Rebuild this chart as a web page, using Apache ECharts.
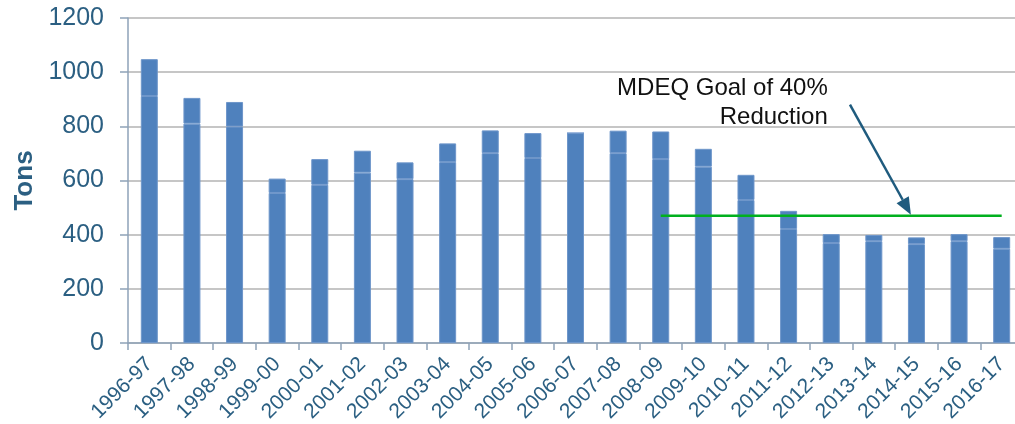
<!DOCTYPE html>
<html>
<head>
<meta charset="utf-8">
<script src="https://cdn.jsdelivr.net/npm/echarts@6/dist/echarts.min.js"></script>
<style>
html,body{margin:0;padding:0;background:#fff;}
#chart{width:1015px;height:424px;}
</style>
</head>
<body>
<div id="chart"></div>
<script>
// ---- data ----
var categories = ['1996-97','1997-98','1998-99','1999-00','2000-01','2001-02','2002-03','2003-04','2004-05','2005-06','2006-07','2007-08','2008-09','2009-10','2010-11','2011-12','2012-13','2013-14','2014-15','2015-16','2016-17'];
var totalTons = [1048, 905, 890, 607, 679, 710, 667, 737, 785, 775, 775, 784, 781, 717, 621, 488, 402, 399, 390, 402, 391];
var lowerTons = [912, 810, 799, 554, 584, 629, 605, 668, 701, 683, 775, 701, 679, 651, 528, 421, 369, 376, 365, 376, 348];
var yTicks = [0, 200, 400, 600, 800, 1000, 1200];
var goalValue = 470;
var goalStartCategory = '2008-09';
var goalText = 'MDEQ Goal of 40%\nReduction';
// annotation anchors in data space: [category index, value]
var arrowFrom = [16.44, 880];
var arrowTo = [17.87, 474];
var textAnchor = [15.92, 885];

var upperTons = totalTons.map(function (t, i) { return t - lowerTons[i]; });
var goalStartIdx = categories.indexOf(goalStartCategory);
var goalData = categories.map(function (c, i) { return i >= goalStartIdx ? goalValue : null; });

var textColor = '#2B5F82';
var axisColor = '#8EA2B8';
var barColor = '#4F81BD';
var barBorder = '#6E96CA';

var chart = echarts.init(document.getElementById('chart'));
chart.setOption({
  animation: false,
  grid: { left: 128, top: 18, width: 895, height: 325, containLabel: false, outerBoundsMode: 'none' },
  xAxis: {
    type: 'category',
    data: categories,
    boundaryGap: true,
    axisLine: { show: true, lineStyle: { color: axisColor, width: 1.5 } },
    axisTick: { show: true, length: 7, alignWithLabel: false, lineStyle: { color: axisColor, width: 1.5 } },
    axisLabel: { rotate: 45, margin: 18, interval: 0, color: textColor, fontSize: 21, fontFamily: 'Liberation Sans, Arial, sans-serif' },
    splitLine: { show: false }
  },
  yAxis: {
    type: 'value',
    min: yTicks[0],
    max: yTicks[yTicks.length - 1],
    interval: yTicks[1] - yTicks[0],
    name: 'Tons',
    nameLocation: 'middle',
    nameGap: 86,
    nameTextStyle: { color: textColor, fontSize: 26, fontWeight: 'bold', fontFamily: 'Liberation Sans, Arial, sans-serif' },
    axisLine: { show: true, lineStyle: { color: axisColor, width: 1.5 } },
    axisTick: { show: true, length: 8, lineStyle: { color: axisColor, width: 1.5 } },
    axisLabel: { margin: 24, color: textColor, fontSize: 25, fontFamily: 'Liberation Sans, Arial, sans-serif',
      formatter: function (v) { return String(v); } },
    splitLine: { show: true, lineStyle: { color: '#C6C6C6', width: 2 } }
  },
  series: [
    {
      name: 'lower', type: 'bar', stack: 'tons', data: lowerTons, barWidth: 17,
      itemStyle: { color: barColor, borderColor: barBorder, borderWidth: 1 }
    },
    {
      name: 'upper', type: 'bar', stack: 'tons', data: upperTons, barWidth: 17,
      itemStyle: { color: barColor, borderColor: barBorder, borderWidth: 1 }
    },
    {
      name: 'goal', type: 'line', data: goalData, symbol: 'none', z: 5,
      lineStyle: { color: '#00B01E', width: 2.5 }, connectNulls: false
    }
  ]
});

function toPixel(pt) {
  var i0 = Math.floor(pt[0]);
  var f = pt[0] - i0;
  var a = chart.convertToPixel({ gridIndex: 0 }, [i0, pt[1]]);
  var b = chart.convertToPixel({ gridIndex: 0 }, [i0 + 1, pt[1]]);
  return [a[0] + f * (b[0] - a[0]), a[1]];
}

var p0 = toPixel(arrowFrom);
var p1 = toPixel(arrowTo);
var dx = p1[0] - p0[0], dy = p1[1] - p0[1];
var len = Math.sqrt(dx * dx + dy * dy);
var ux = dx / len, uy = dy / len;
var headLen = 17, headHalf = 7;
var base = [p1[0] - ux * headLen, p1[1] - uy * headLen];
var left = [base[0] - uy * headHalf, base[1] + ux * headHalf];
var right = [base[0] + uy * headHalf, base[1] - ux * headHalf];
var tp = toPixel(textAnchor);

chart.setOption({
  graphic: [
    {
      type: 'line', z: 100,
      shape: { x1: p0[0], y1: p0[1], x2: base[0], y2: base[1] },
      style: { stroke: '#1F5B7E', lineWidth: 2.5 }
    },
    {
      type: 'polygon', z: 100,
      shape: { points: [p1, left, right] },
      style: { fill: '#1F5B7E' }
    },
    {
      type: 'text', z: 100,
      x: tp[0], y: tp[1],
      style: {
        text: goalText, fill: '#111111', align: 'right', verticalAlign: 'middle',
        font: '24px "Liberation Sans", Arial, sans-serif', lineHeight: 29
      }
    }
  ]
});
</script>
</body>
</html>
